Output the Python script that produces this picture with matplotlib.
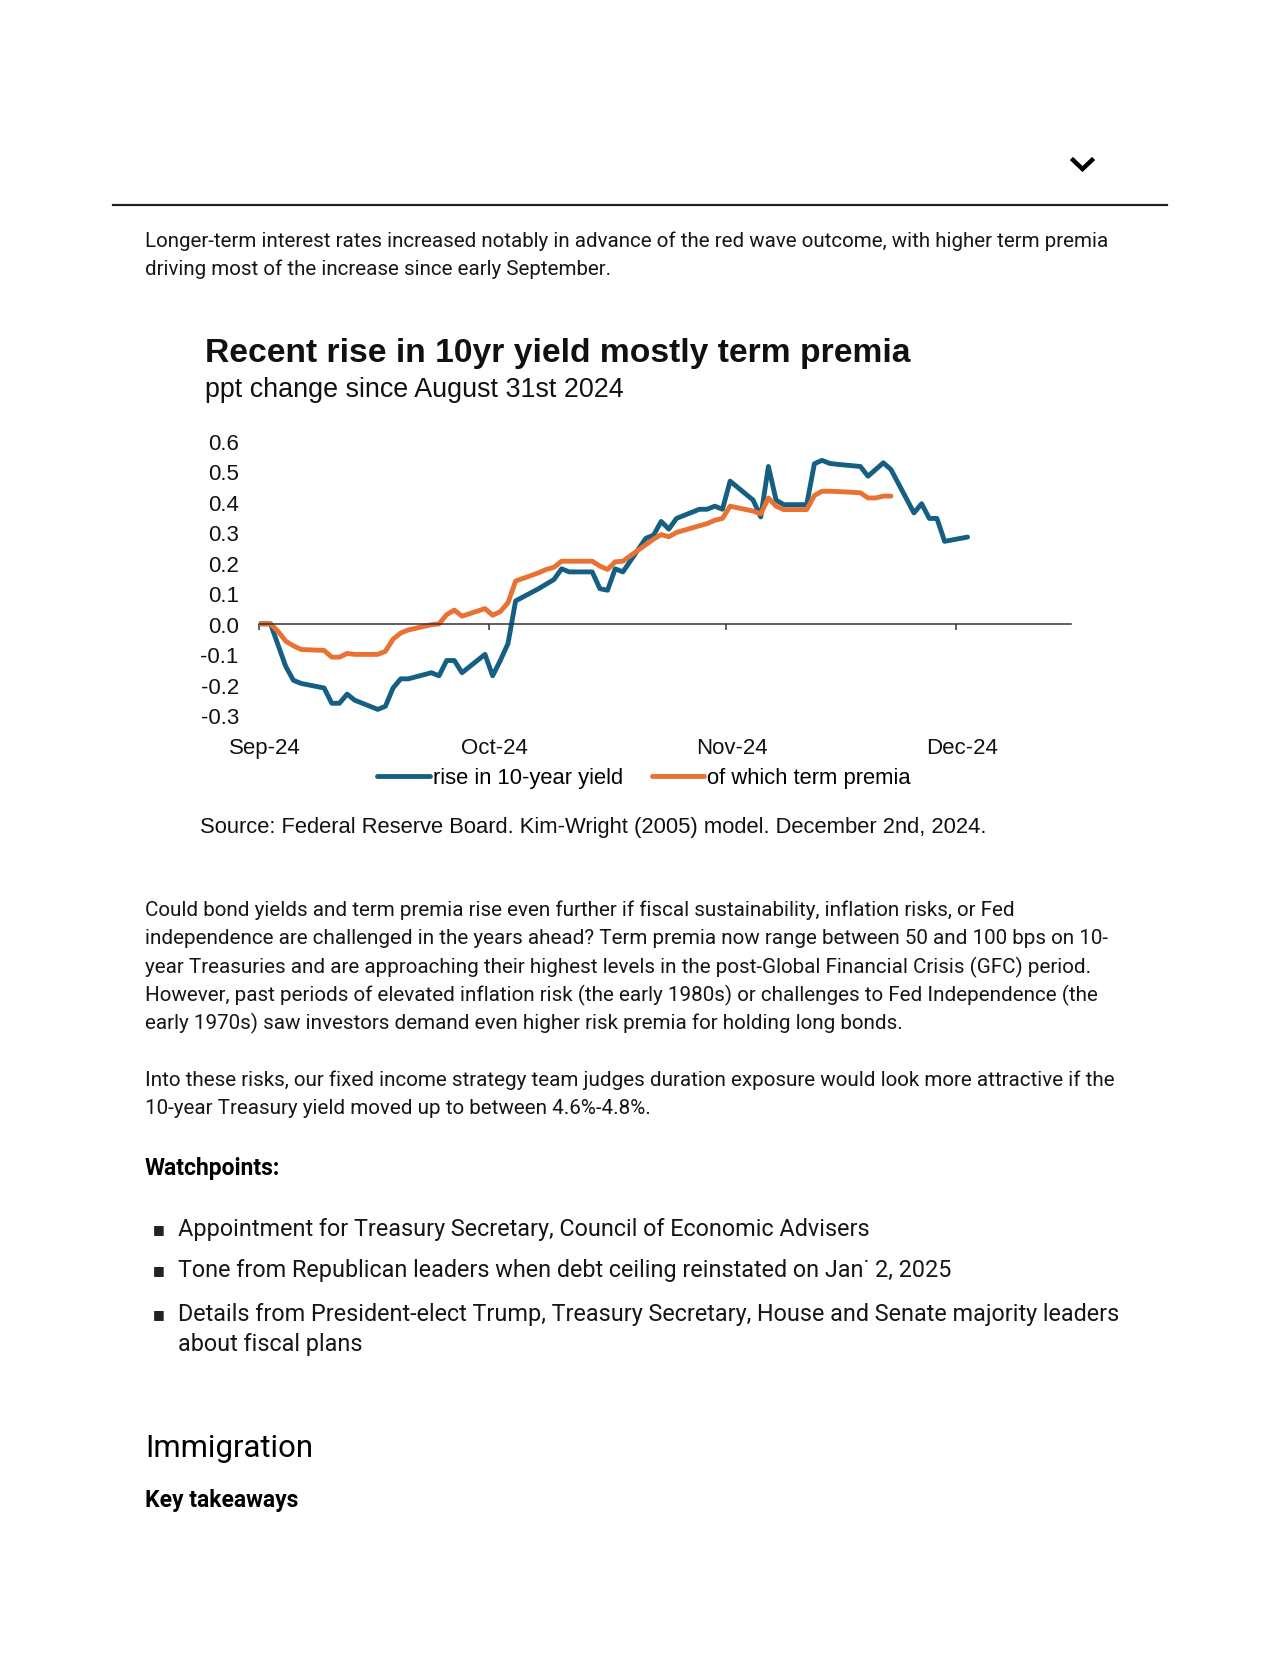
import matplotlib
matplotlib.use("Agg")
import matplotlib.pyplot as plt
import matplotlib.dates as mdates
from matplotlib.lines import Line2D
from matplotlib.ticker import FuncFormatter, MultipleLocator
from matplotlib.transforms import ScaledTranslation
from matplotlib import font_manager
import pandas as pd

W, H = 1280, 1656

# business days, holidays (Labor Day, Veterans Day, Thanksgiving) carry the previous value
dates = pd.bdate_range("2024-08-30", "2024-12-02")

yield_rise = [
    0.0, 0.0, -0.07, -0.14, -0.185, -0.195,
    -0.21, -0.26, -0.26, -0.23, -0.25,
    -0.28, -0.27, -0.21, -0.18, -0.18,
    -0.16, -0.17, -0.12, -0.12, -0.16,
    -0.10, -0.17, -0.12, -0.065, 0.075,
    0.115, 0.13, 0.145, 0.18, 0.17,
    0.17, 0.115, 0.11, 0.18, 0.17,
    0.28, 0.29, 0.335, 0.31, 0.345,
    0.375, 0.375, 0.385, 0.375, 0.467,
    0.405, 0.35, 0.515, 0.405, 0.39,
    0.39, 0.524, 0.535, 0.525, 0.522,
    0.515, 0.483, 0.505, 0.527, 0.505,
    0.363, 0.393, 0.345, 0.345, 0.27,
    0.284,
]

term_premia = [
    0.0, 0.0, -0.025, -0.057, -0.072, -0.084,
    -0.087, -0.109, -0.109, -0.097, -0.10,
    -0.10, -0.09, -0.05, -0.03, -0.02,
    -0.003, 0.0, 0.03, 0.045, 0.025,
    0.05, 0.028, 0.04, 0.069, 0.14,
    0.167, 0.178, 0.185, 0.205, 0.205,
    0.205, 0.189, 0.178, 0.203, 0.205,
    0.259, 0.277, 0.292, 0.285, 0.299,
    0.321, 0.328, 0.339, 0.345, 0.385,
    0.369, 0.36, 0.412, 0.385, 0.374,
    0.374, 0.42, 0.434, 0.434, 0.433,
    0.429, 0.412, 0.412, 0.418, 0.418,
]

series_labels = ["rise in 10-year yield", "of which term premia"]
series_colors = ["#156082", "#E97132"]

chart_title = "Recent rise in 10yr yield mostly term premia"
chart_subtitle = "ppt change since August 31st 2024"
chart_source = "Source: Federal Reserve Board. Kim-Wright (2005) model. December 2nd, 2024."

intro_lines = [
    "Longer-term interest rates increased notably in advance of the red wave outcome, with higher term premia",
    "driving most of the increase since early September.",
]
para2_lines = [
    "Could bond yields and term premia rise even further if fiscal sustainability, inflation risks, or Fed",
    "independence are challenged in the years ahead? Term premia now range between 50 and 100 bps on 10-",
    "year Treasuries and are approaching their highest levels in the post-Global Financial Crisis (GFC) period.",
    "However, past periods of elevated inflation risk (the early 1980s) or challenges to Fed Independence (the",
    "early 1970s) saw investors demand even higher risk premia for holding long bonds.",
]
para3_lines = [
    "Into these risks, our fixed income strategy team judges duration exposure would look more attractive if the",
    "10-year Treasury yield moved up to between 4.6%-4.8%.",
]
bullets = [
    ["Appointment for Treasury Secretary, Council of Economic Advisers"],
    ["Tone from Republican leaders when debt ceiling reinstated on Jan\u02d9 2, 2025"],
    ["Details from President-elect Trump, Treasury Secretary, House and Senate majority leaders",
     "about fiscal plans"],
]

names = {f.name for f in font_manager.fontManager.ttflist}
if "Liberation Sans Narrow" in names:
    BODY, k = "Liberation Sans Narrow", 1.16
else:
    BODY, k = "Roboto", 1.0
CHART = "Liberation Sans"


def fx(x):
    return x / W


def fy(y):
    return 1 - y / H


fig = plt.figure(figsize=(W / 100, H / 100), dpi=100)
fig.patch.set_facecolor("white")

# page header: chevron and rule
fig.add_artist(Line2D([fx(1073), fx(1082.5), fx(1092)], [fy(161), fy(170), fy(161)],
                      color="black", lw=3.2, solid_joinstyle="miter"))
fig.add_artist(Line2D([fx(113), fx(1167)], [fy(206), fy(206)], color="#222222", lw=1.6))

body = dict(family=BODY, color="#161616", va="center", ha="left")
for i, line in enumerate(intro_lines):
    fig.text(fx(145), fy(241 + i * 28.5), line, fontsize=14.8 * k, **body)

# chart texts
fig.text(fx(205), fy(353.5), chart_title, family=CHART, fontsize=24.2, fontweight="bold",
         color="#111111", va="center")
fig.text(fx(205), fy(390), chart_subtitle, family=CHART, fontsize=19.4, color="#111111", va="center")
fig.text(fx(200), fy(828), chart_source, family=CHART, fontsize=15.8, color="#111111", va="center")

# chart
ax = fig.add_axes([fx(259), fy(716.5), fx(1071) - fx(259), fy(441.5) - fy(716.5)])
x = dates + pd.Timedelta(hours=12)
lines = []
lines += ax.plot(x, yield_rise, color=series_colors[0], lw=3.5,
                 solid_joinstyle="round", solid_capstyle="round", label=series_labels[0])
lines += ax.plot(x[:len(term_premia)], term_premia, color=series_colors[1], lw=3.5,
                 solid_joinstyle="round", solid_capstyle="round", label=series_labels[1])

ax.set_xlim(pd.Timestamp("2024-09-01"), pd.Timestamp("2024-12-16"))
ax.set_ylim(-0.3, 0.6)
ax.yaxis.set_major_locator(MultipleLocator(0.1))
ax.yaxis.set_major_formatter(FuncFormatter(lambda v, p: f"{v:.1f}".replace("-0.0", "0.0")))
ax.xaxis.set_major_locator(mdates.MonthLocator())
ax.xaxis.set_major_formatter(mdates.DateFormatter("%b-%y"))

for s in ["top", "right", "left"]:
    ax.spines[s].set_visible(False)
ax.spines["bottom"].set_position(("data", 0))
ax.spines["bottom"].set_color("#333333")
ax.spines["bottom"].set_linewidth(1.1)
ax.tick_params(axis="y", length=0, pad=14.5, labelsize=16, labelcolor="#111111")
ax.tick_params(axis="x", direction="out", length=4.5, width=1.1, color="#333333",
               pad=77, labelsize=16, labelcolor="#111111")
shift = ScaledTranslation(0.055, 0, fig.dpi_scale_trans)
for t in ax.get_xticklabels():
    t.set_family(CHART)
    t.set_transform(t.get_transform() + shift)
for t in ax.get_yticklabels():
    t.set_family(CHART)
ax.patch.set_alpha(0)

fig.legend(handles=lines, labels=series_labels, loc="center", ncol=2,
           bbox_to_anchor=(fx(644), fy(779)), frameon=False,
           prop=dict(family=CHART, size=15.8), handlelength=2.4, handletextpad=0.15,
           columnspacing=1.3, borderpad=0)

for i, line in enumerate(para2_lines):
    fig.text(fx(145), fy(910.5 + i * 28.3), line, fontsize=14.85 * k, **body)
for i, line in enumerate(para3_lines):
    fig.text(fx(145), fy(1080 + i * 28.5), line, fontsize=14.85 * k, **body)

fig.text(fx(145), fy(1168.5), "Watchpoints:", family=BODY, fontsize=16.5 * k, fontweight="bold",
         color="black", va="center")

bullet_y = [[1229.5], [1271], [1314.5, 1345]]
for lines_b, ys in zip(bullets, bullet_y):
    fig.text(fx(158.5), fy(ys[0]), "\u25a0", family="DejaVu Sans", fontsize=9, color="#222222",
             ha="center", va="center")
    for line, yy in zip(lines_b, ys):
        fig.text(fx(177.5), fy(yy), line, fontsize=16.8 * k, **body)

fig.text(fx(145), fy(1449), "Immigration", family=BODY, fontsize=22.4 * k, color="black", va="center")
fig.text(fx(145), fy(1501), "Key takeaways", family=BODY, fontsize=16.5 * k, fontweight="bold",
         color="black", va="center")

fig.savefig("out.png", dpi=100, facecolor="white")
